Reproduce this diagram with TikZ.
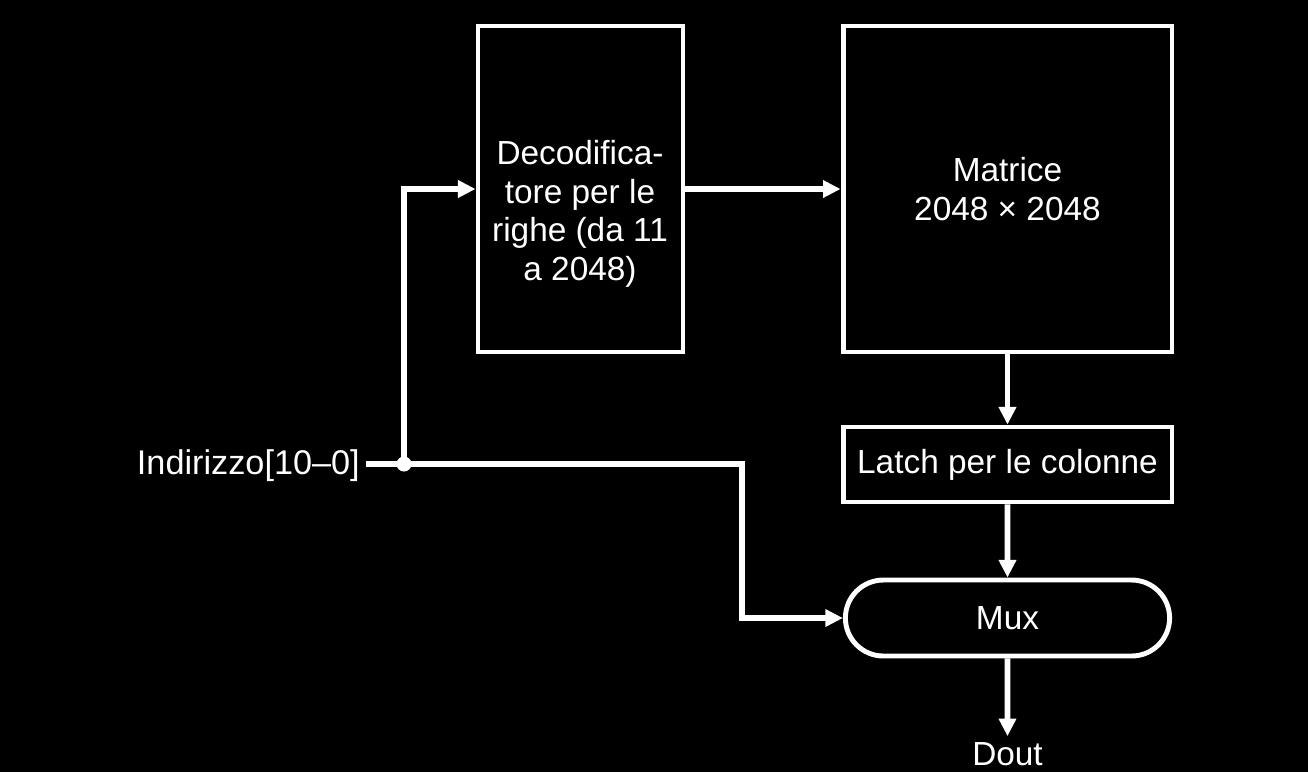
\documentclass[tikz,border=0pt]{standalone}
\usepackage{fontspec}
\setmainfont{Liberation Sans}
\usetikzlibrary{arrows.meta,shapes.misc}

\begin{document}
\begin{tikzpicture}[x=.02cm,y=-.02cm,
  every node/.style={text=white,font=\fontsize{19}{22}\selectfont,align=center},
  blocco/.style={draw=white,line width=2.8pt,minimum width=6.58cm},
  freccia/.style={draw=white,line width=3.3pt,-{Triangle[length=10pt,width=9.5pt]}}]
\fill[black] (0,0) rectangle (1308,772);
\useasboundingbox (0,0) rectangle (1308,772);
%blocchi
\node[blocco,minimum width=4.1cm,minimum height=6.52cm] (dec) at (580.5,189) {};
\node (dectesto) at (580,214) {Decodifica-\\tore per le\\righe (da 11\\a 2048)};
\node[blocco,minimum height=6.52cm] (mat) at (1007.5,189) {Matrice\\2048 × 2048};
\node[blocco,minimum height=1.5cm] (latch) at (1007.5,464.5) {Latch per le colonne};
\node[blocco,rounded rectangle,minimum width=6.72cm,minimum height=1.52cm] (mux) at (1007.5,618) {Mux};
\node (dout) at (1007.5,754) {Dout};
\node[anchor=east,font=\fontsize{19.5}{22}\selectfont] (ind) at (366,466) {Indirizzo[10–0]};
\node[circle,fill=white,inner sep=0pt,minimum size=.3cm] (bivio) at (404,464) {};
\coordinate (gomito) at (742,464);
%collegamenti
\draw[freccia] (ind.east |- gomito) -- (gomito) |- (mux.west);
\draw[freccia] (bivio.center) |- (dec.west);
\draw[freccia] (dec) -- (mat);
\draw[freccia] (mat) -- (latch);
\draw[freccia] (latch) -- (mux);
\draw[freccia] (mux) -- (dout);
\end{tikzpicture}
\end{document}
